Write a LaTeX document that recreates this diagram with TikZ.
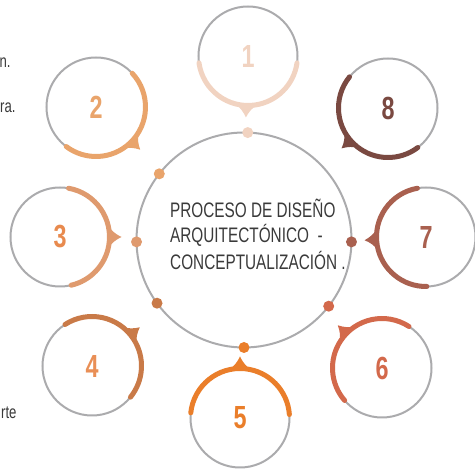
\documentclass[tikz,border=0pt]{standalone}
\usepackage{fontspec}
\setmainfont{Liberation Sans}
\usetikzlibrary{calc}

\definecolor{ringgray}{HTML}{ABABAD}
\definecolor{textgray}{HTML}{3A3A3A}
\definecolor{colA}{HTML}{F1D3C1}
\definecolor{colB}{HTML}{E9A46B}
\definecolor{colC}{HTML}{DF9A6E}
\definecolor{numC}{HTML}{E88A4E}
\definecolor{colD}{HTML}{C97A48}
\definecolor{numD}{HTML}{E98F56}
\definecolor{colE}{HTML}{EA7E2A}
\definecolor{colF}{HTML}{D3694B}
\definecolor{colG}{HTML}{A9604F}
\definecolor{colH}{HTML}{7A4941}

\tikzset{
  ring/.style={draw=ringgray, line width=2pt, circle, minimum size=99pt, inner sep=0pt,
    font=\bfseries\fontsize{32}{32}\selectfont},
  band/.style={line width=5pt, line cap=round},
  title/.style={anchor=base west, inner sep=0pt, text=textgray, font=\fontsize{21}{21}\selectfont},
  side/.style={anchor=base east, text=textgray, font=\fontsize{18}{18}\selectfont},
}
% tail of a ring: ring, angle, colour
\newcommand\tail[3]{\fill[#3] ($(#1.center)+(#2-13:49.5)$) to[bend left=14] ($(#1.center)+(#2:61.5)$)
  to[bend left=14] ($(#1.center)+(#2+13:49.5)$) -- cycle;}
\newcommand\sq[1]{\scalebox{0.73}[1]{#1}}

\begin{document}
\begin{tikzpicture}[x=1pt, y=1pt]
  \useasboundingbox (0,0) rectangle (475,469);

  \node[draw=ringgray, line width=2pt, circle, minimum size=215pt] (core) at (244,229) {};
  \node[title] (t1) at (170,251) {\sq{PROCESO DE DISEÑO}};
  \node[title] (t2) at (170,226) {\sq{ARQUITECTÓNICO\ \ -}};
  \node[title] (t3) at (170,199) {\sq{CONCEPTUALIZACIÓN .}};

  \node[ring, text=colA] (c1) at (248,413) {\sq{1}};
  \node[ring, text=colB] (c2) at (96,362) {\sq{2}};
  \node[ring, text=numC] (c3) at (60,232) {\sq{3}};
  \node[ring, text=numD] (c4) at (92,103) {\sq{4}};
  \node[ring, text=colE] (c5) at (240,51) {\sq{5}};
  \node[ring, text=colF] (c6) at (382,101) {\sq{6}};
  \node[ring, text=colG] (c7) at (426,232) {\sq{7}};
  \node[ring, text=colH] (c8) at (388,361) {\sq{8}};

  % arcs
  \draw[band, colA] (c1.center) ++(188:49.5) arc[start angle=188, end angle=352, radius=49.5];
  \draw[band, colB] (c2.center) ++(43:49.5) arc[start angle=43, end angle=-127, radius=49.5];
  \draw[band, colC] (c3.center) ++(80:49.5) arc[start angle=80, end angle=-77, radius=49.5];
  \draw[band, colD] (c4.center) ++(123:49.5) arc[start angle=123, end angle=-39, radius=49.5];
  \draw[band, colE] (c5.center) ++(174:49.5) arc[start angle=174, end angle=4, radius=49.5];
  \draw[band, colF] (c6.center) ++(57:49.5) arc[start angle=57, end angle=221, radius=49.5];
  \draw[band, colG] (c7.center) ++(100:49.5) arc[start angle=100, end angle=271, radius=49.5];
  \draw[band, colH] (c8.center) ++(141:49.5) arc[start angle=141, end angle=307, radius=49.5];

  \tail{c1}{268}{colA}
  \tail{c2}{-44}{colB}
  \tail{c3}{0}{colC}
  \tail{c4}{39}{colD}
  \tail{c5}{90}{colE}
  \tail{c6}{136}{colF}
  \tail{c7}{183}{colG}
  \tail{c8}{221}{colH}

  % dots on the core
  \fill[colA] (core.center) ++(88:107.5) circle (5.5);
  \fill[colB] (core.center) ++(142:107.5) circle (5.5);
  \fill[colC] (core.center) ++(181:107.5) circle (5.5);
  \fill[colD] (core.center) ++(216:107.5) circle (5.5);
  \fill[colE] (core.center) ++(270:107.5) circle (5.5);
  \fill[colF] (core.center) ++(322:107.5) circle (5.5);
  \fill[colG] (core.center) ++(359:107.5) circle (5.5);

  \node[side] (s1) at (14,401) {\sq{n.}};
  \node[side] (s2) at (19,356) {\sq{ra.}};
  \node[side] (s3) at (20,50) {\sq{rte}};
\end{tikzpicture}
\end{document}
